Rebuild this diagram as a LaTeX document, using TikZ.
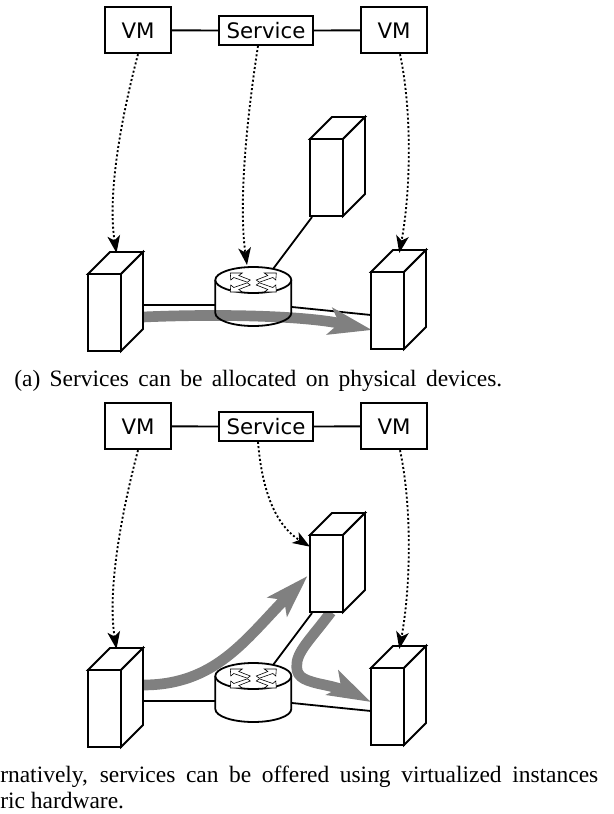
\documentclass[tikz,border=0pt]{standalone}
\usepackage{fontspec}
\setmainfont{Liberation Serif}
\newfontfamily\dvfont{DejaVu Sans}
\usetikzlibrary{arrows.meta}
\definecolor{flow}{HTML}{808080}
\tikzset{
 x=0.75pt,y=-0.75pt,
 ln/.style={line width=1.35pt,black,line join=miter},
 box/.style={draw=black,line width=1.35pt,fill=white,inner sep=0pt,font=\dvfont\fontsize{16}{16}\selectfont,minimum height=34.5pt,minimum width=49pt},
 svc/.style={box,minimum height=21.75pt,minimum width=70.5pt},
 dep/.style={line width=1.4pt,dash pattern=on 1.5pt off 1.7pt,-{Stealth[length=13pt,width=9.5pt,inset=3.5pt]}},
 flowarrow/.style={draw=flow,line width=8pt,-{Stealth[length=32pt,width=20pt,inset=7pt]}},
 captext/.style={font=\fontsize{17.6}{17.6}\selectfont,inner sep=0pt,anchor=base west},
 icon/.style={line width=0.45pt,draw=black,fill=white,line join=miter},
}
\newcommand{\serverbox}[3]{% x y name
 \coordinate (#3) at (#1,#2);
 \draw[ln,fill=white] (#1,#2) rectangle (#1+33,#2+77);
 \draw[ln,fill=white] (#1,#2) -- (#1+22,#2-22) -- (#1+55,#2-22) -- (#1+33,#2) -- cycle;
 \draw[ln,fill=white] (#1+33,#2) -- (#1+55,#2-22) -- (#1+55,#2+55) -- (#1+33,#2+77) -- cycle;
}
\newcommand{\routerbody}[2]{% cx cy (top ellipse centre)
 \fill[white] (#1-38,#2) -- (#1-38,#2+33) arc[start angle=180,end angle=360,x radius=38,y radius=-13] -- (#1+38,#2) arc[start angle=0,end angle=180,x radius=38,y radius=-13] -- cycle;
}
\newcommand{\routerlines}[2]{%
 \draw[ln] (#1-38,#2) -- (#1-38,#2+33) arc[start angle=180,end angle=360,x radius=38,y radius=-13] -- (#1+38,#2);
 \draw[ln,fill=white] (#1,#2) ellipse[x radius=38,y radius=13];
 \foreach \sx in {-1,1}{\foreach \sy in {-1,1}{
  \draw[icon] (#1+\sx*23,#2+2.5+\sy*9.5) -- (#1+\sx*11,#2+2.5+\sy*9.5) -- (#1+\sx*14.5,#2+2.5+\sy*7) -- (#1+\sx*3,#2+2.5+\sy*2.5) -- (#1+\sx*6,#2+2.5+\sy*0.3) -- (#1+\sx*19.5,#2+2.5+\sy*5) -- (#1+\sx*22.5,#2+2.5+\sy*2.5) -- cycle;
 }}
}
\begin{document}
\begin{tikzpicture}
\useasboundingbox (0,0) rectangle (614,814);
% ---------- top
\coordinate (pa) at (143,305); \coordinate (ra) at (215,305);
\coordinate (rb) at (292,307); \coordinate (pb) at (371,315);
\coordinate (rc) at (273,269); \coordinate (pc) at (312,217);
\draw[ln] (pa) -- (ra);
\draw[ln] (rb) -- (pb);
\draw[ln] (rc) -- (pc);
\routerbody{253.3}{280}
\coordinate (fa) at (143,317); \coordinate (fb) at (372,330);
\draw[flowarrow] (fa) .. controls (210,314) and (300,315) .. (fb);
\routerlines{253.3}{280}
\serverbox{88}{274}{sa}
\serverbox{310}{139}{sb}
\serverbox{371}{272}{sc}
\node[box] (vma) at (138,30.3) {VM};
\node[svc] (sva) at (266,30.5) {Service};
\node[box] (vmb) at (394,30.3) {VM};
\draw[ln] (vma) -- (sva) (sva) -- (vmb);
\coordinate (ta) at (116.5,253); \coordinate (tb) at (247,265); \coordinate (tc) at (399.3,253);
\draw[dep] (vma.south) .. controls (118,130) and (108,200) .. (ta);
\draw[dep] ([xshift=-6pt]sva.south) .. controls (248,110) and (238,200) .. (tb);
\draw[dep] ([xshift=4.5pt]vmb.south) .. controls (412,110) and (411,190) .. (tc);
\node[captext] (capa) at (14,386) {\makebox[366pt][s]{(a) Services can be allocated on physical devices.}};
% ---------- bottom
\coordinate (pd) at (143,701); \coordinate (rd) at (215,701);
\coordinate (re) at (292,703); \coordinate (pe) at (371,711);
\coordinate (rf) at (273,665); \coordinate (pf) at (312,613);
\draw[ln] (pd) -- (rd);
\draw[ln] (re) -- (pe);
\draw[ln] (rf) -- (pf);
\coordinate (fc) at (143,685); \coordinate (fd) at (307.5,576);
\coordinate (fe) at (331,612); \coordinate (ff) at (371,702);
\coordinate (fg) at (296.7,667); \coordinate (fh) at (325,685);
\draw[flowarrow] (fc) .. controls (215,685) and (245,640) .. (fd);
\draw[flowarrow] (fe) .. controls (310,640) and (296,652) .. (fg) .. controls (297,678) and (306,681) .. (fh) .. controls (340,688) and (355,694) .. (ff);
\routerbody{253.3}{676}
\routerlines{253.3}{676}
\serverbox{88}{670}{sd}
\serverbox{310}{535}{se}
\serverbox{371}{668}{sf}
\node[box] (vmc) at (138,426.3) {VM};
\node[svc] (svb) at (266,426.5) {Service};
\node[box] (vmd) at (394,426.3) {VM};
\draw[ln] (vmc) -- (svb) (svb) -- (vmd);
\coordinate (td) at (116.5,649); \coordinate (te) at (310,546.7); \coordinate (tf) at (399.3,649);
\draw[dep] (vmc.south) .. controls (118,526) and (108,596) .. (td);
\draw[dep] ([xshift=-6pt]svb.south) .. controls (262,490) and (275,525) .. (te);
\draw[dep] ([xshift=4.5pt]vmd.south) .. controls (412,506) and (411,586) .. (tf);
\node[captext] (capb) at (0,782) {\makebox[448.5pt][s]{rnatively, services can be offered using virtualized instances}};
\node[captext] (capc) at (0,808) {ric hardware.};
\end{tikzpicture}
\end{document}
